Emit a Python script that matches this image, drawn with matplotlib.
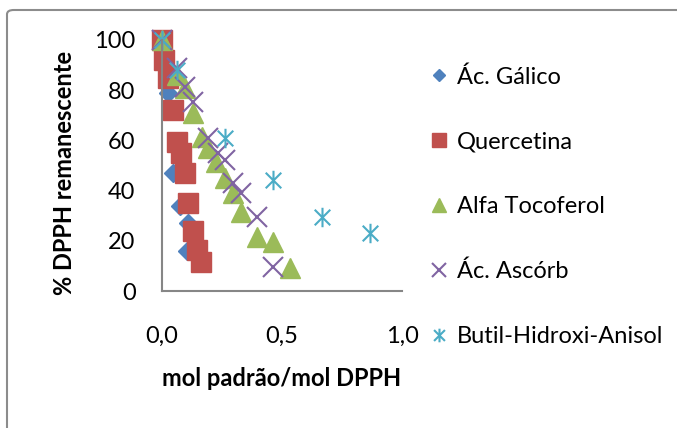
import numpy as np
import matplotlib.pyplot as plt
from matplotlib.path import Path
from matplotlib.patches import FancyBboxPatch

plt.rcParams['font.family'] = ['Lato', 'DejaVu Sans']

# --- data (x = mol padrão/mol DPPH, y = % DPPH) ---
galico_x = [0.0, 0.025, 0.045, 0.075, 0.11, 0.105]
galico_y = [100, 79, 47, 34, 27, 16]

querc_x = [0.0, 0.008, 0.026, 0.045, 0.061, 0.078, 0.096, 0.11, 0.128, 0.145, 0.162]
querc_y = [100, 92, 85, 72, 59.5, 55, 47, 35, 24, 16.3, 11.7]

toco_x = [0.0, 0.061, 0.096, 0.128, 0.165, 0.19, 0.225, 0.262, 0.295, 0.33, 0.395, 0.463, 0.533]
toco_y = [100, 86, 81, 71, 61.5, 57, 51.5, 45, 39, 31.6, 21.6, 19.6, 9.2]

ascorb_x = [0.0, 0.061, 0.096, 0.128, 0.193, 0.235, 0.262, 0.297, 0.33, 0.394, 0.464]
ascorb_y = [100, 89, 81.4, 75.4, 60.8, 54.8, 52.2, 42.9, 38.9, 29.6, 9.7]

bha_x = [0.0, 0.061, 0.262, 0.464, 0.665, 0.867]
bha_y = [100, 88, 60.8, 44.2, 29.6, 23]

x_ticks = [0.0, 0.5, 1.0]
y_ticks = [0, 20, 40, 60, 80, 100]

# Excel-style asterisk: an X with a vertical bar
star = Path([(-1, -1), (1, 1), (-1, 1), (1, -1), (0, -1.25), (0, 1.25)],
            [Path.MOVETO, Path.LINETO, Path.MOVETO, Path.LINETO, Path.MOVETO, Path.LINETO])

W, H = 677, 428
fig = plt.figure(figsize=(W / 100, H / 100), dpi=100)

# chart area border
fig.patches.append(FancyBboxPatch((7 / W, -0.1), 1.1, 1 - 10 / H + 0.1,
                                  boxstyle='round,pad=0,rounding_size=0.01',
                                  transform=fig.transFigure, fill=False,
                                  edgecolor='#8c8c8c', linewidth=1.5))

ax = fig.add_axes([162 / W, (H - 291) / H, (402 - 162) / W, (291 - 40) / H])
ax.set_xlim(0, 1.0)
ax.set_ylim(0, 100)

ax.plot(galico_x, galico_y, 'D', ms=9, color='#4F81BD', label='Ác. Gálico', clip_on=False)
ax.plot(querc_x, querc_y, 's', ms=14, color='#C0504D', label='Quercetina', clip_on=False)
ax.plot(toco_x, toco_y, '^', ms=15, color='#9BBB59', label='Alfa Tocoferol', clip_on=False)
ax.plot(ascorb_x, ascorb_y, 'x', ms=14, mew=1.5, color='#8064A2', label='Ác. Ascórb', clip_on=False)
ax.plot(bha_x, bha_y, marker=star, ls='none', ms=14, mew=1.5, color='#4BACC6',
        label='Butil-Hidroxi-Anisol', clip_on=False)

for s in ['top', 'right']:
    ax.spines[s].set_visible(False)
for s in ['left', 'bottom']:
    ax.spines[s].set_color('#868686')
    ax.spines[s].set_linewidth(1.5)

ax.set_xticks(x_ticks)
ax.set_xticklabels(['0,0', '0,5', '1,0'])
ax.set_yticks(y_ticks)
ax.tick_params(length=0, labelsize=17)
ax.tick_params(axis='x', pad=25)
ax.tick_params(axis='y', pad=19)

fig.text(282 / W, 1 - 378 / H, 'mol padrão/mol DPPH', ha='center', va='center',
         fontsize=17, fontweight='bold')
fig.text(65 / W, 1 - 173 / H, '% DPPH remanescente', ha='center', va='center',
         rotation=90, fontsize=17, fontweight='bold')

fig.legend(loc='upper left', bbox_to_anchor=(407 / W, 1 - 45 / H), frameon=False,
           fontsize=17, labelspacing=1.85, handlelength=0.9, handletextpad=0.3,
           markerscale=0.7)

fig.savefig('out.png', dpi=100)
